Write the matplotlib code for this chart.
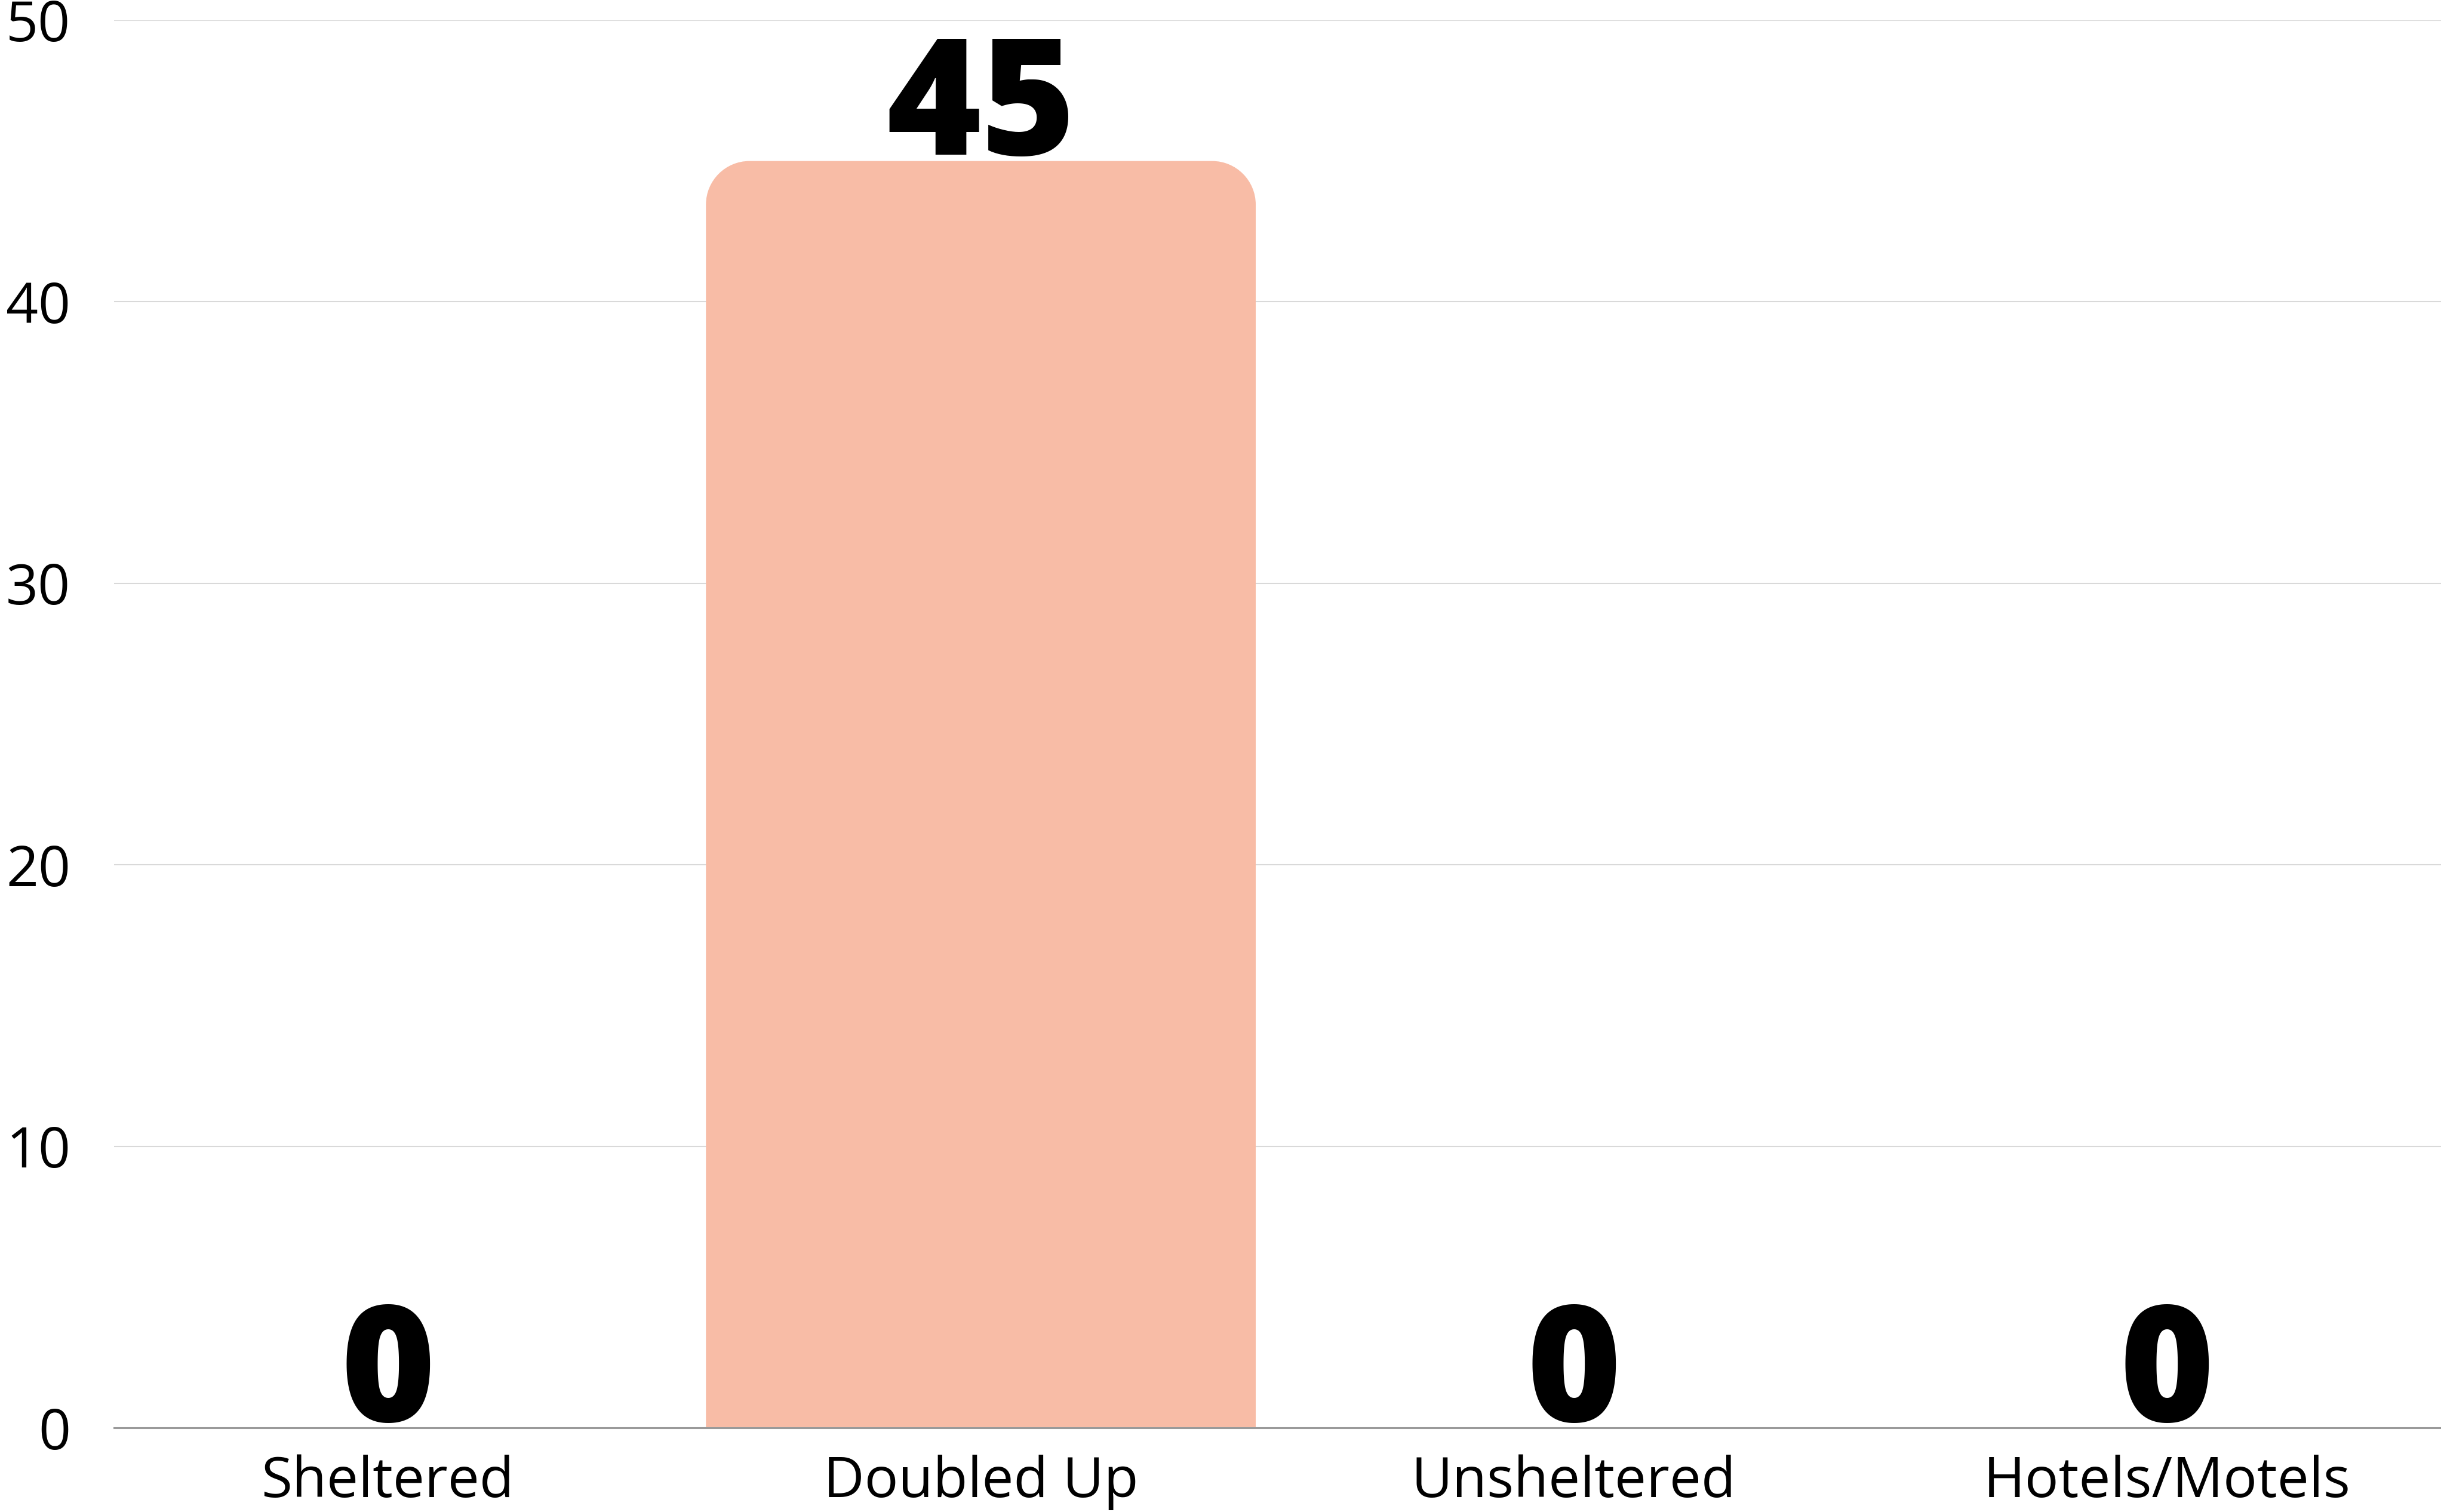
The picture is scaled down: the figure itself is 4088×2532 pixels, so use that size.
import matplotlib
matplotlib.use("Agg")
import matplotlib.pyplot as plt
from matplotlib.path import Path
from matplotlib.patches import PathPatch

categories = ["Sheltered", "Doubled Up", "Unsheltered", "Hotels/Motels"]
counts = [0, 45, 0, 0]
y_ticks = [0, 10, 20, 30, 40, 50]

bar_color = "#F8BCA6"

plt.rcParams["font.family"] = ["Open Sans", "DejaVu Sans"]

fig = plt.figure(figsize=(40.88, 25.32), dpi=100)
ax = fig.add_axes([0.0466, 0.0556, 0.9534, 0.931])

x = list(range(len(categories)))
bars = ax.bar(x, counts, width=0.927, color=bar_color, zorder=2)

ax.set_xlim(-0.462, 3.462)
ax.set_ylim(0, 50)
ax.set_yticks(y_ticks)
ax.set_xticks(x)
ax.set_xticklabels(categories)

for s in ["top", "right", "left"]:
    ax.spines[s].set_visible(False)
ax.spines["bottom"].set_color("#9a9a9a")
ax.spines["bottom"].set_linewidth(2.2)
ax.spines["bottom"].set_zorder(3)

ax.grid(axis="y", color="#d9d9d9", linewidth=1.5, zorder=0)
ax.set_axisbelow(True)
ax.tick_params(axis="both", length=0, labelsize=68, colors="black")
ax.tick_params(axis="x", pad=32)
ax.tick_params(axis="y", pad=52)

# swap rectangles for top-rounded shapes (radius in pixels)
radius_px = 73
fig.canvas.draw()
inv = ax.transData.inverted()
for rect in bars:
    h = rect.get_height()
    if h <= 0:
        continue
    x0, y0 = rect.get_x(), rect.get_y()
    w = rect.get_width()
    p0 = ax.transData.transform((0, 0))
    p1 = inv.transform((p0[0] + radius_px, p0[1] + radius_px))
    rx, ry = p1[0], p1[1]
    k = 0.5523
    top = y0 + h
    verts = [
        (x0, y0), (x0, top - ry),
        (x0, top - ry + k * ry), (x0 + rx - k * rx, top), (x0 + rx, top),
        (x0 + w - rx, top),
        (x0 + w - rx + k * rx, top), (x0 + w, top - ry + k * ry), (x0 + w, top - ry),
        (x0 + w, y0), (x0, y0),
    ]
    codes = [Path.MOVETO, Path.LINETO,
             Path.CURVE4, Path.CURVE4, Path.CURVE4,
             Path.LINETO,
             Path.CURVE4, Path.CURVE4, Path.CURVE4,
             Path.LINETO, Path.CLOSEPOLY]
    ax.add_patch(PathPatch(Path(verts, codes), facecolor=bar_color,
                           edgecolor="none", zorder=2))
    rect.set_visible(False)

for xi, v in zip(x, counts):
    ax.annotate(str(v), (xi, v), xytext=(0, 8), textcoords="offset points",
                ha="center", va="baseline", fontsize=195, fontweight="heavy",
                color="black", zorder=4)

fig.savefig("out.png", dpi=100)
